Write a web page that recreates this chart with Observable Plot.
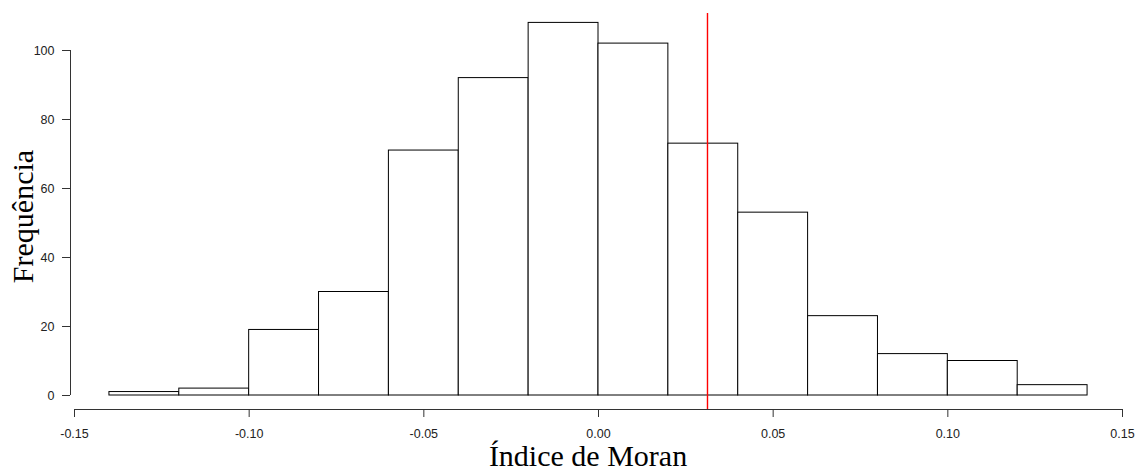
<!DOCTYPE html>
<html>
<head>
<meta charset="utf-8">
<script src="https://cdn.jsdelivr.net/npm/d3@7"></script>
<script src="https://cdn.jsdelivr.net/npm/@observablehq/plot@0.6"></script>
<style>
  html, body { margin: 0; padding: 0; background: #fff; }
  #chart { width: 1141px; height: 471px; }
</style>
</head>
<body>
<div id="chart"></div>
<script>
// Histogram of simulated Moran's I values
const binLower = [-0.14, -0.12, -0.10, -0.08, -0.06, -0.04, -0.02, 0.00, 0.02, 0.04, 0.06, 0.08, 0.10, 0.12];
const binUpper = [-0.12, -0.10, -0.08, -0.06, -0.04, -0.02, 0.00, 0.02, 0.04, 0.06, 0.08, 0.10, 0.12, 0.14];
const counts   = [1, 2, 19, 30, 71, 92, 108, 102, 73, 53, 23, 12, 10, 3];
const observedMoran = [0.0312];
const xTicks = [-0.15, -0.10, -0.05, 0.00, 0.05, 0.10, 0.15];
const yTicks = [0, 20, 40, 60, 80, 100];
const xTitle = "Índice de Moran";
const yTitle = "Frequência";

const bins = binLower.map((lo, i) => ({x1: lo, x2: binUpper[i], count: counts[i]}));

const sans = "'Liberation Sans', Arial, Helvetica, sans-serif";
const serif = "'Liberation Serif', 'Times New Roman', Times, serif";

const chart = Plot.plot({
  width: 1141,
  height: 471,
  marginLeft: 70,
  marginRight: 36,
  marginTop: 13,
  marginBottom: 62,
  style: {fontFamily: sans, fontSize: "12.5px", background: "#fff"},
  x: {domain: [-0.15, 0.15], range: [74, 1122]},
  y: {domain: [0, 100], range: [395, 50]},
  marks: [
    Plot.rectY(bins, {x1: "x1", x2: "x2", y1: 0, y2: "count", fill: "white", stroke: "black", strokeWidth: 1}),
    Plot.ruleX(observedMoran, {x: d => d, stroke: "#ff0000", strokeWidth: 1.4}),
    Plot.ruleX([-0.15], {y1: 0, y2: 100, dx: -4, stroke: "#333"}),
    Plot.ruleY([0], {x1: -0.15, x2: 0.15, dy: 14, stroke: "#333"}),
    Plot.axisX({ticks: xTicks, tickFormat: d => d.toFixed(2), tickSize: 8, tickPadding: 12, stroke: "#333", fill: "#222", label: null, fontSize: 12.5}),
    Plot.axisY({ticks: yTicks, tickFormat: d => String(d), tickSize: 8, tickPadding: 8, stroke: "#333", fill: "#222", label: null, fontSize: 12.5}),
    Plot.text([xTitle], {frameAnchor: "bottom", lineAnchor: "bottom", dy: 56, fontFamily: serif, fontSize: 30, fill: "black"}),
    Plot.text([yTitle], {frameAnchor: "left", textAnchor: "middle", lineAnchor: "bottom", rotate: -90, dx: -38, dy: 5, fontFamily: serif, fontSize: 30, fill: "black"})
  ]
});
document.getElementById("chart").appendChild(chart);
</script>
</body>
</html>
